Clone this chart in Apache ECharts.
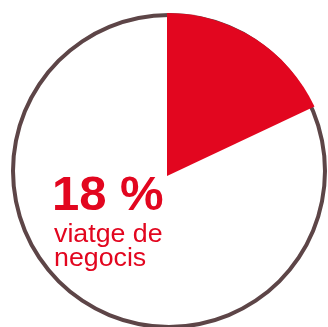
<!DOCTYPE html>
<html>
<head>
<meta charset="utf-8">
<script src="https://cdn.jsdelivr.net/npm/echarts@6/dist/echarts.min.js"></script>
<style>
  html, body { margin: 0; padding: 0; background: #fff; }
  #chart { width: 328px; height: 327px; }
</style>
</head>
<body>
<div id="chart"></div>
<script>
// dades
const categories = ['viatge de negocis', 'altres'];
const values = [18, 82];
const labelLines = ['viatge de', 'negocis'];

const red = '#e2061f';
const ring = '#5d4547';

const chart = echarts.init(document.getElementById('chart'));

const option = {
    animation: false,
    series: [
        // contorn del cercle
        {
            type: 'pie',
            silent: true,
            center: [169, 171],
            radius: [154, 158],
            label: { show: false },
            labelLine: { show: false },
            itemStyle: { color: ring },
            data: [{ name: 'total', value: values.reduce((a, b) => a + b, 0) }],
            z: 1
        },
        {
            type: 'pie',
            silent: true,
            center: [167, 176],
            radius: 163,
            startAngle: 90,
            clockwise: true,
            label: { show: false },
            labelLine: { show: false },
            data: categories.map((c, i) => ({
                name: c,
                value: values[i],
                itemStyle: { color: i === 0 ? red : 'rgba(0,0,0,0)' }
            })),
            z: 2
        }
    ],
    graphic: [
        {
            type: 'text',
            x: 52,
            y: 196,
            style: {
                text: values[0] + ' %',
                fill: red,
                font: 'bold 49px "Liberation Sans", Arial, sans-serif',
                align: 'left',
                verticalAlign: 'middle'
            }
        },
        {
            type: 'text',
            x: 54,
            y: 235,
            scaleX: 1.07,
            style: {
                text: labelLines[0],
                fill: red,
                font: '25px "Liberation Sans", Arial, sans-serif',
                align: 'left',
                verticalAlign: 'middle'
            }
        },
        {
            type: 'text',
            x: 54,
            y: 259,
            scaleX: 1.07,
            style: {
                text: labelLines[1],
                fill: red,
                font: '25px "Liberation Sans", Arial, sans-serif',
                align: 'left',
                verticalAlign: 'middle'
            }
        }
    ]
};

chart.setOption(option);
</script>
</body>
</html>
